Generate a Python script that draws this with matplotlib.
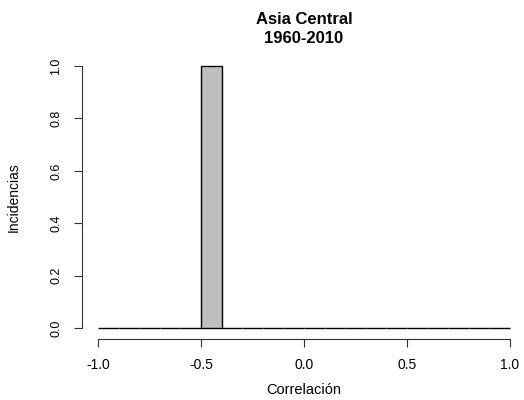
import numpy as np
import matplotlib.pyplot as plt

plt.rcParams['font.family'] = ['Liberation Sans', 'DejaVu Sans']

# histograma de correlaciones (bins de 0.1 entre -1 y 1)
bordes = np.round(np.arange(-1.0, 1.0001, 0.1), 2)
conteos = [0, 0, 0, 0, 0, 1, 0, 0, 0, 0, 0, 0, 0, 0, 0, 0, 0, 0, 0, 0]
xticks = [-1.0, -0.5, 0.0, 0.5, 1.0]
yticks = [0.0, 0.2, 0.4, 0.6, 0.8, 1.0]

fig = plt.figure(figsize=(5.24, 4), dpi=100)
ax = fig.add_axes([81.5 / 524, 1 - 338.5 / 400, 445 / 524, (338.5 - 55.6) / 400])

ax.bar(bordes[:-1], conteos, width=0.1, align='edge', color='#BEBEBE',
       edgecolor='black', linewidth=1)
ax.set_xlim(-1.08, 1.08)
ax.set_ylim(-0.04, 1.04)

for s in ['top', 'right']:
    ax.spines[s].set_visible(False)
ax.spines['left'].set_bounds(0, 1)
ax.spines['bottom'].set_bounds(-1, 1)
ax.spines['left'].set_linewidth(0.8)
ax.spines['bottom'].set_linewidth(0.8)
ax.spines['left'].set_color('#333333')
ax.spines['bottom'].set_color('#333333')

ax.set_xticks(xticks)
ax.set_xticklabels([f'{v:.1f}' for v in xticks])
ax.set_yticks(yticks)
ax.set_yticklabels([f'{v:.1f}' for v in yticks], rotation=90, va='center')
ax.tick_params(direction='out', length=6, width=0.8, color='#333333')
ax.tick_params(axis='x', labelsize=10, pad=8)
ax.tick_params(axis='y', labelsize=9, pad=8)

ax.set_xlabel('Correlación', fontsize=10.5, labelpad=8)
ax.set_ylabel('Incidencias', fontsize=10, labelpad=21)
ax.set_title('Asia Central\n1960-2010', fontsize=12, fontweight='bold', pad=9,
             linespacing=1.3)

fig.savefig('out.png', dpi=100)
